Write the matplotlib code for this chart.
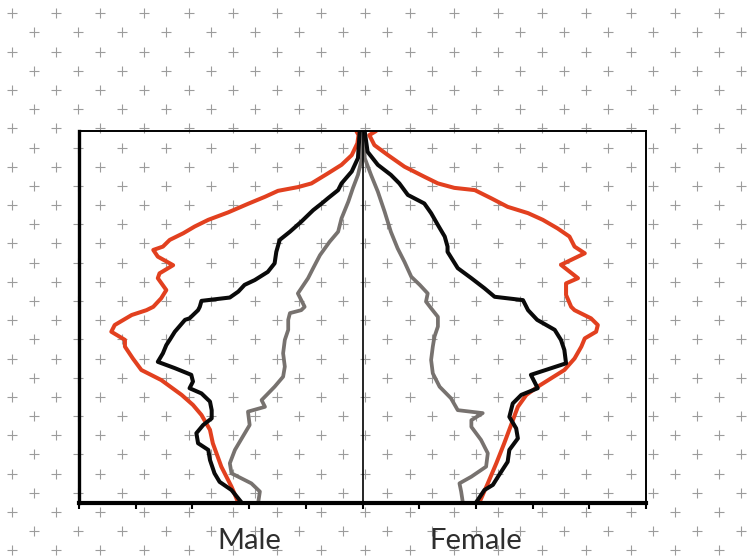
import numpy as np
import matplotlib
matplotlib.use('Agg')
import matplotlib.pyplot as plt

# ages (y) and population share (x) for each line
male_red_age = [100, 98.9, 96.7, 93.5, 90.9, 88.6, 85.9, 84.9, 83.9, 82.3, 80.4, 78.1, 76.1, 74.3, 72.5,
                70.7, 68.9, 68.0, 66.2, 63.9, 61.7, 60.4, 57.2, 55.0, 52.7, 51.8, 50.5, 47.8, 46.0, 43.8,
                42.0, 38.8, 35.7, 33.0, 29.0, 26.3, 23.6, 19.6, 16.0, 9.7, 4.3, 0.0]
male_red = [0.11, 0.07, 0.09, 0.19, 0.37, 0.61, 0.90, 1.14, 1.49, 1.72, 2.02, 2.37, 2.72, 2.96, 3.16,
            3.40, 3.52, 3.69, 3.61, 3.34, 3.58, 3.61, 3.46, 3.55, 3.69, 3.81, 4.07, 4.37, 4.43, 4.19,
            4.19, 4.05, 3.90, 3.55, 3.19, 2.99, 2.84, 2.69, 2.64, 2.49, 2.31, 2.19]

male_black_age = [99.8, 92.7, 89.1, 85.9, 84.1, 81.9, 80.5, 78.7, 75.6, 72.9, 70.7, 67.5, 64.4, 62.1,
                  59.9, 58.6, 56.8, 55.2, 54.3, 52.7, 51.8, 49.6, 49.2, 46.0, 43.8, 42.4, 40.2, 37.9,
                  36.2, 34.4, 32.6, 30.8, 29.4, 27.2, 24.9, 22.7, 20.9, 18.7, 16.0, 14.2, 11.5, 7.9,
                  5.6, 3.4, 0.0]
male_black = [0.05, 0.08, 0.19, 0.37, 0.43, 0.61, 0.72, 0.87, 1.08, 1.28, 1.46, 1.52, 1.55, 1.67,
              1.90, 2.08, 2.19, 2.34, 2.84, 2.87, 2.90, 3.05, 3.13, 3.31, 3.40, 3.46, 3.52, 3.61,
              3.31, 3.02, 2.99, 3.05, 2.84, 2.69, 2.66, 2.66, 2.81, 2.93, 2.90, 2.72, 2.69, 2.61,
              2.52, 2.31, 2.13]

male_gray_age = [99.8, 92.7, 88.2, 84.6, 81.0, 76.5, 72.9, 70.2, 66.6, 63.1, 60.4, 56.3, 52.7, 51.8,
                 51.0, 49.2, 46.5, 43.8, 40.2, 36.6, 33.9, 31.2, 29.0, 27.6, 25.8, 24.5, 20.9, 17.3,
                 14.2, 10.6, 7.9, 5.2, 3.0, 0.0]
male_gray = [0.0, 0.01, 0.08, 0.17, 0.25, 0.37, 0.43, 0.58, 0.75, 0.87, 0.96, 1.14, 1.02, 1.08,
             1.28, 1.31, 1.31, 1.37, 1.40, 1.37, 1.40, 1.55, 1.69, 1.78, 1.72, 2.02, 1.99, 2.13,
             2.25, 2.34, 2.31, 1.96, 1.81, 1.84]

female_red_age = [100, 98.9, 96.2, 93.5, 90.4, 87.7, 85.9, 84.7, 84.1, 81.9, 79.6, 77.9, 76.1, 73.8,
                  71.6, 68.9, 67.1, 64.0, 60.4, 59.0, 55.9, 52.7, 51.8, 49.6, 47.8, 46.0, 44.2, 42.0,
                  38.8, 35.7, 33.5, 31.2, 29.0, 25.8, 20.9, 16.0, 10.6, 5.2, 0.0]
female_red = [0.24, 0.12, 0.21, 0.45, 0.74, 1.09, 1.33, 1.62, 1.98, 2.27, 2.56, 2.92, 3.18, 3.44,
              3.65, 3.74, 3.92, 3.50, 3.80, 3.59, 3.59, 3.68, 3.74, 4.03, 4.15, 4.12, 3.92, 3.86,
              3.74, 3.56, 3.33, 3.09, 2.89, 2.74, 2.62, 2.50, 2.36, 2.21, 2.06]

female_black_age = [99.8, 94.4, 90.9, 88.2, 85.9, 82.8, 80.5, 77.9, 74.7, 71.6, 68.9, 67.5, 63.1, 60.4,
                    57.7, 55.4, 54.5, 51.8, 49.2, 46.5, 43.8, 41.1, 37.5, 34.4, 30.8, 29.0, 26.7, 23.1,
                    20.0, 17.3, 14.2, 11.0, 7.0, 4.8, 3.4, 0.0]
female_black = [0.04, 0.09, 0.27, 0.50, 0.65, 0.80, 1.09, 1.21, 1.33, 1.45, 1.50, 1.50, 1.68, 1.92,
                2.15, 2.33, 2.83, 2.92, 3.08, 3.39, 3.50, 3.56, 3.59, 2.97, 3.09, 2.80, 2.65, 2.59,
                2.71, 2.74, 2.59, 2.56, 2.39, 2.30, 2.15, 2.00]

female_gray_age = [99.8, 92.7, 88.2, 83.7, 78.3, 72.9, 68.4, 64.8, 60.8, 58.6, 56.3, 54.1, 52.3, 50.0,
                   47.4, 44.7, 42.0, 38.4, 34.8, 31.2, 28.1, 24.9, 24.1, 22.2, 20.4, 16.9, 13.3, 9.7,
                   7.0, 5.2, 3.0, 0.0]
female_gray = [0.02, 0.04, 0.15, 0.27, 0.39, 0.50, 0.62, 0.74, 0.86, 1.01, 1.15, 1.12, 1.21, 1.33,
               1.33, 1.27, 1.24, 1.21, 1.24, 1.36, 1.56, 1.68, 2.12, 1.92, 1.92, 2.09, 2.21, 2.18,
               1.92, 1.71, 1.74, 1.77]

x_ticks = list(range(-5, 6))
side_labels = ['Male', 'Female']

RED = '#e2401f'
BLACK = '#0a0a0a'
GRAY = '#77726f'


def draw_crosses(fig):
    # dotted "+" paper behind everything
    bg = fig.add_axes([0, 0, 1, 1], zorder=0)
    bg.set_xlim(0, 755)
    bg.set_ylim(556, 0)
    bg.axis('off')
    xs, ys = [], []
    for k in range(29):
        y = 13.3 + 19.18 * k
        start = 11.7 if k % 2 == 0 else 33.8
        for x in np.arange(start, 760, 44.2):
            xs.append(x)
            ys.append(y)
    bg.scatter(xs, ys, marker='+', s=6.5 ** 2, color='#9c9c9c', linewidths=0.8)


fig = plt.figure(figsize=(7.55, 5.56), dpi=100)
draw_crosses(fig)

ax = fig.add_axes([79 / 755, 1 - 502.7 / 556, 567 / 755, 371.7 / 556], zorder=1)
ax.patch.set_alpha(0)

lw = 2.9
style = dict(solid_joinstyle='round', solid_capstyle='round')
ax.plot(-np.array(male_red), male_red_age, color=RED, lw=lw, **style)
ax.plot(np.array(female_red), female_red_age, color=RED, lw=lw, **style)
ax.plot(-np.array(male_gray), male_gray_age, color=GRAY, lw=2.7, **style)
ax.plot(np.array(female_gray), female_gray_age, color=GRAY, lw=2.7, **style)
ax.plot(-np.array(male_black), male_black_age, color=BLACK, lw=lw, **style)
ax.plot(np.array(female_black), female_black_age, color=BLACK, lw=lw, **style)

ax.axvline(0, color='black', lw=1.2)

ax.set_xlim(-5, 5)
ax.set_ylim(0, 100)
ax.set_xticks(x_ticks)
ax.set_xticklabels([])
ax.set_yticks([])
ax.tick_params(axis='x', direction='out', length=4, width=1.5, color='black')

ax.spines['left'].set_linewidth(2.4)
ax.spines['bottom'].set_linewidth(3.0)
ax.spines['top'].set_linewidth(1.4)
ax.spines['right'].set_linewidth(1.4)

for label, x in zip(side_labels, [-2, 2]):
    ax.text(x, -12.5, label, ha='center', va='baseline', fontsize=21,
            family='Lato', color='#2e2e2e', clip_on=False)

fig.savefig('out.png', dpi=100)
